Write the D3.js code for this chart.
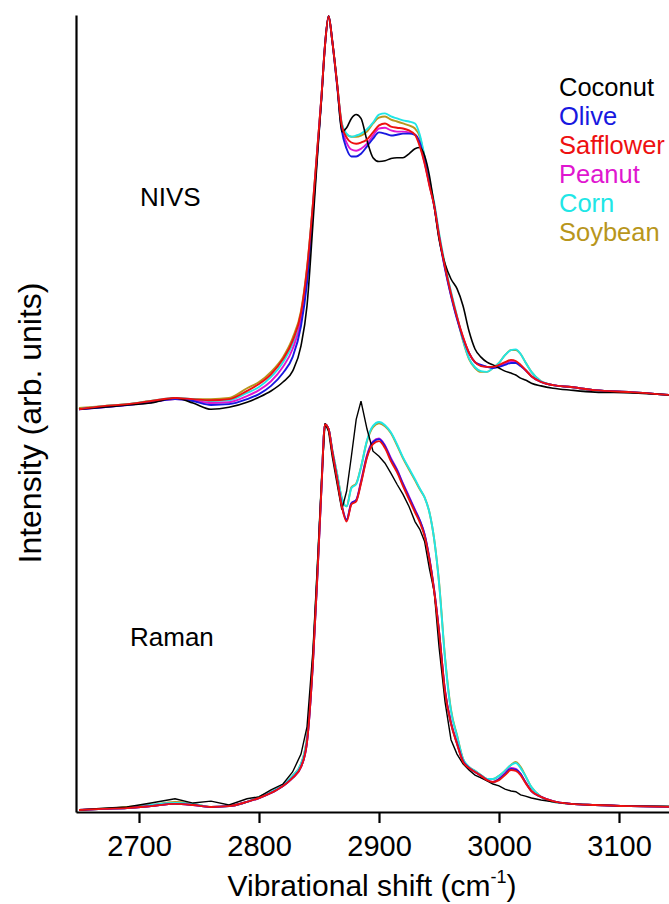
<!DOCTYPE html>
<html lang="en">
<head>
<meta charset="UTF-8">
<title>NIVS and Raman spectra of oils</title>
<script src="https://cdnjs.cloudflare.com/ajax/libs/d3/7.8.5/d3.min.js"></script>
<style>
body{margin:0;background:#fff}
text{font-family:"Liberation Sans",Arial,sans-serif}
</style>
</head>
<body>
<div id="grafica"></div>
<script>
// wavenumbers (cm-1) shared by every spectrum
shift=[2650,2670,2690,2710,2730,2745,2760,2775,2790,2800,2810,2820,2828,2835,2840,2845,2849,2852,2855,2858,
2861,2865,2869,2873,2877,2881,2885,2890,2895,2900,2905,2910,2915,2920,2925,2930,2934,2938,2942,2946,
2950,2955,2960,2965,2970,2975,2980,2985,2990,2995,3000,3005,3010,3014,3018,3022,3027,3035,3045,3060,
3080,3110,3145]

// NIVS (upper trace), normalised to the 2857 band
nivsCoconut=[-0.008,-0.003,0.003,0.008,0.021,0.008,-0.008,-0.003,0.010,0.023,
0.039,0.062,0.090,0.155,0.258,0.472,0.657,0.786,0.928,1.003,
0.941,0.832,0.706,0.716,0.740,0.750,0.740,0.683,0.639,0.629,
0.631,0.637,0.639,0.639,0.649,0.662,0.665,0.644,0.593,0.515,
0.430,0.366,0.327,0.302,0.258,0.193,0.147,0.126,0.113,0.106,
0.098,0.090,0.085,0.080,0.072,0.067,0.059,0.052,0.046,0.041,
0.036,0.034,0.028]
nivsOlive=[-0.008,-0.003,0.003,0.010,0.018,0.013,0.003,0.005,0.018,0.031,
0.052,0.085,0.126,0.206,0.317,0.503,0.668,0.791,0.928,1.003,
0.941,0.827,0.709,0.662,0.642,0.642,0.649,0.668,0.688,0.704,
0.701,0.696,0.698,0.701,0.701,0.698,0.678,0.631,0.572,0.515,
0.436,0.353,0.284,0.224,0.175,0.137,0.113,0.106,0.101,0.098,
0.101,0.106,0.111,0.111,0.103,0.093,0.077,0.062,0.054,0.049,
0.041,0.036,0.028]
nivsSafflower=[-0.008,0.000,0.005,0.013,0.021,0.018,0.015,0.018,0.039,0.057,
0.082,0.121,0.168,0.240,0.353,0.523,0.678,0.794,0.928,1.003,
0.941,0.832,0.722,0.691,0.678,0.675,0.678,0.686,0.704,0.722,
0.727,0.719,0.716,0.714,0.709,0.698,0.668,0.624,0.567,0.515,
0.438,0.358,0.289,0.229,0.178,0.137,0.113,0.103,0.101,0.101,
0.106,0.113,0.119,0.116,0.106,0.093,0.077,0.062,0.054,0.049,
0.041,0.036,0.028]
nivsPeanut=[-0.008,-0.003,0.003,0.010,0.018,0.015,0.008,0.010,0.026,0.041,
0.064,0.101,0.147,0.222,0.335,0.513,0.673,0.794,0.928,1.003,
0.941,0.830,0.716,0.678,0.660,0.657,0.662,0.675,0.696,0.714,
0.716,0.709,0.706,0.706,0.704,0.698,0.673,0.626,0.570,0.515,
0.438,0.356,0.286,0.227,0.177,0.137,0.113,0.104,0.101,0.100,
0.104,0.110,0.116,0.114,0.105,0.093,0.077,0.062,0.054,0.049,
0.041,0.036,0.028]
nivsCorn=[-0.008,0.000,0.005,0.013,0.021,0.018,0.013,0.015,0.034,0.049,
0.075,0.113,0.160,0.232,0.345,0.518,0.675,0.794,0.928,1.003,
0.941,0.832,0.727,0.701,0.693,0.696,0.701,0.712,0.729,0.750,
0.753,0.745,0.740,0.735,0.732,0.727,0.698,0.642,0.580,0.523,
0.446,0.364,0.294,0.232,0.170,0.123,0.100,0.090,0.088,0.098,
0.111,0.131,0.144,0.146,0.134,0.113,0.088,0.064,0.054,0.049,
0.041,0.036,0.028]
nivsSoybean=[-0.005,0.000,0.005,0.013,0.018,0.018,0.018,0.021,0.046,0.062,
0.088,0.126,0.175,0.245,0.356,0.523,0.678,0.794,0.928,1.003,
0.941,0.832,0.727,0.698,0.693,0.693,0.696,0.706,0.727,0.742,
0.745,0.737,0.732,0.727,0.722,0.714,0.693,0.639,0.577,0.520,
0.443,0.361,0.291,0.229,0.168,0.121,0.098,0.088,0.088,0.098,
0.111,0.131,0.144,0.144,0.134,0.113,0.088,0.064,0.054,0.049,
0.041,0.036,0.028]

// Raman (lower trace), normalised to the 2855 band
ramanCoconut=[0.005,0.010,0.013,0.023,0.034,0.023,0.028,0.018,0.034,0.039,
0.057,0.072,0.103,0.149,0.219,0.418,0.657,0.845,1.000,0.979,
0.915,0.845,0.778,0.825,0.915,1.010,1.057,0.985,0.928,0.915,
0.897,0.871,0.843,0.817,0.786,0.747,0.727,0.696,0.626,0.567,
0.425,0.284,0.186,0.149,0.124,0.108,0.095,0.088,0.080,0.072,
0.067,0.059,0.054,0.052,0.044,0.041,0.036,0.031,0.026,0.021,
0.018,0.015,0.015]
ramanOlive=[0.005,0.008,0.010,0.015,0.021,0.018,0.013,0.015,0.026,0.036,
0.049,0.067,0.088,0.116,0.180,0.387,0.631,0.830,0.997,0.985,
0.928,0.858,0.788,0.752,0.794,0.802,0.848,0.915,0.951,0.959,
0.941,0.907,0.879,0.843,0.809,0.776,0.750,0.714,0.652,0.570,
0.466,0.312,0.229,0.177,0.131,0.113,0.103,0.093,0.082,0.077,
0.085,0.098,0.111,0.109,0.098,0.077,0.054,0.039,0.028,0.021,
0.018,0.015,0.013]
ramanSafflower=[0.005,0.008,0.010,0.015,0.021,0.018,0.013,0.015,0.026,0.036,
0.049,0.067,0.088,0.116,0.180,0.387,0.631,0.830,0.997,0.985,
0.928,0.858,0.786,0.747,0.791,0.799,0.845,0.912,0.946,0.954,
0.936,0.902,0.874,0.838,0.804,0.771,0.745,0.709,0.649,0.567,
0.464,0.309,0.227,0.175,0.129,0.113,0.103,0.093,0.082,0.077,
0.082,0.095,0.108,0.106,0.095,0.075,0.054,0.039,0.028,0.021,
0.018,0.015,0.013]
ramanPeanut=[0.005,0.008,0.010,0.015,0.021,0.018,0.013,0.015,0.026,0.036,
0.049,0.067,0.088,0.116,0.180,0.387,0.631,0.830,0.997,0.985,
0.928,0.858,0.788,0.750,0.794,0.802,0.851,0.918,0.953,0.961,
0.943,0.910,0.881,0.845,0.812,0.778,0.750,0.714,0.652,0.570,
0.466,0.312,0.229,0.177,0.131,0.113,0.103,0.093,0.082,0.077,
0.085,0.100,0.113,0.111,0.098,0.077,0.054,0.039,0.028,0.021,
0.018,0.015,0.013]
ramanCorn=[0.005,0.008,0.010,0.018,0.023,0.021,0.013,0.015,0.026,0.039,
0.052,0.070,0.093,0.124,0.190,0.396,0.642,0.836,0.997,0.985,
0.933,0.871,0.807,0.786,0.833,0.843,0.887,0.956,0.993,1.003,
0.995,0.976,0.946,0.912,0.884,0.856,0.832,0.809,0.771,0.701,
0.590,0.396,0.260,0.196,0.137,0.116,0.106,0.095,0.085,0.085,
0.093,0.106,0.121,0.126,0.113,0.093,0.064,0.039,0.026,0.021,
0.018,0.015,0.013]
ramanSoybean=[0.005,0.008,0.013,0.018,0.026,0.021,0.013,0.015,0.026,0.039,
0.052,0.070,0.093,0.124,0.193,0.399,0.644,0.838,0.997,0.985,
0.933,0.871,0.807,0.786,0.835,0.845,0.887,0.954,0.990,1.000,
0.992,0.974,0.943,0.910,0.881,0.853,0.830,0.809,0.771,0.701,
0.593,0.399,0.263,0.198,0.137,0.116,0.106,0.095,0.085,0.085,
0.093,0.106,0.121,0.129,0.116,0.093,0.064,0.039,0.026,0.021,
0.018,0.015,0.013]

oils=['Coconut','Olive','Safflower','Peanut','Corn','Soybean']
colors=['#000000','#1818e0','#ee1010','#e016d0','#20e6e6','#b8961c']
nivs=[nivsCoconut,nivsOlive,nivsSafflower,nivsPeanut,nivsCorn,nivsSoybean]
raman=[ramanCoconut,ramanOlive,ramanSafflower,ramanPeanut,ramanCorn,ramanSoybean]
xTicks=[2700,2800,2900,3000,3100]
nivsOffset=1.044

ancho=669
alto=904
svg=d3.select('#grafica')
	.append('svg')
	.attr('width',ancho)
	.attr('height',alto)

x=d3.scaleLinear().domain([2647.5,3142.5]).range([76,670])
y=d3.scaleLinear().domain([0,2.05]).range([812,15])

svg.append('clipPath').attr('id','plot')
	.append('rect').attr('x',77).attr('y',0).attr('width',ancho-77).attr('height',812)

function trace(values,offset,curve) {
	return d3.line()
		.x(function(d,i){return x(shift[i])})
		.y(function(d){return y(d+offset)})
		.curve(curve)(values)
}

// draw order: soybean first, safflower last (on top)
order=[5,4,3,1,0,2]
g=svg.append('g').attr('clip-path','url(#plot)')
order.forEach(function(k) {
	g.append('path')
		.attr('d',trace(nivs[k],nivsOffset,d3.curveMonotoneX))
		.attr('fill','none')
		.attr('stroke',colors[k])
		.attr('stroke-width',k==0?1.6:1.9)
	g.append('path')
		.attr('d',trace(raman[k],0,k==0?d3.curveLinear:d3.curveMonotoneX))
		.attr('fill','none')
		.attr('stroke',colors[k])
		.attr('stroke-width',k==0?1.4:1.9)
})

// axes
xAxis=svg.append('g')
	.attr('transform','translate(0,812)')
	.call(d3.axisBottom(x).tickValues(xTicks).tickFormat(d3.format('d')).tickSize(11).tickSizeOuter(0).tickPadding(12))
xAxis.select('.domain').attr('stroke','#000').attr('stroke-width',2.2)
xAxis.selectAll('.tick line').attr('stroke','#000').attr('stroke-width',2.2)
xAxis.selectAll('.tick text')
	.attr('font-family','"Liberation Sans",Arial,sans-serif')
	.attr('font-size',29).attr('fill','#000')

yAxis=svg.append('g')
	.attr('transform','translate(76,0)')
	.call(d3.axisLeft(y).tickValues([]).tickSizeOuter(0))
yAxis.select('.domain').attr('stroke','#000').attr('stroke-width',2.2)

xTitle=svg.append('text')
	.attr('x',372).attr('y',896)
	.attr('text-anchor','middle')
	.attr('font-size',30)
xTitle.append('tspan').text('Vibrational shift (cm')
xTitle.append('tspan').attr('font-size',18).attr('dy',-13).text('-1')
xTitle.append('tspan').attr('dy',13).text(')')

svg.append('text')
	.attr('transform','translate(41,423) rotate(-90)')
	.attr('text-anchor','middle')
	.attr('font-size',32)
	.text('Intensity (arb. units)')

svg.append('text').attr('x',140).attr('y',206).attr('font-size',26).text('NIVS')
svg.append('text').attr('x',130).attr('y',646).attr('font-size',26).text('Raman')

// legend
svg.selectAll('.legend').data(oils).enter()
	.append('text')
	.attr('class','legend')
	.attr('x',559)
	.attr('y',function(d,i){return 96+i*29})
	.attr('font-size',25.5)
	.attr('fill',function(d,i){return colors[i]})
	.text(function(d){return d})
</script>
</body>
</html>
